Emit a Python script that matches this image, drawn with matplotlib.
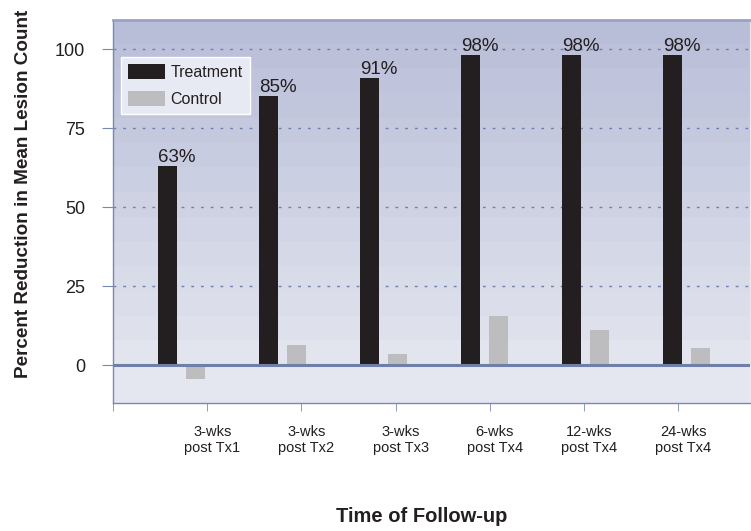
import numpy as np
import matplotlib
matplotlib.use("Agg")
import matplotlib.pyplot as plt
from matplotlib.colors import LinearSegmentedColormap

plt.rcParams['font.family'] = ['Liberation Sans', 'DejaVu Sans']

# data
followups = ['3-wks\npost Tx1', '3-wks\npost Tx2', '3-wks\npost Tx3',
             '6-wks\npost Tx4', '12-wks\npost Tx4', '24-wks\npost Tx4']
treatment = [63, 85, 91, 98, 98, 98]
control = [-4.5, 6.5, 3.5, 15.5, 11, 5.5]

TEXT = '#231f20'
GRID = '#6f80b0'

W, H = 751, 531
fig = plt.figure(figsize=(W / 100, H / 100), dpi=100)
ax = fig.add_axes([113 / W, 1 - 403 / H, (750 - 113) / W, (403 - 20) / H])

xlo, xhi = -0.54, 5.767
ylo, yhi = -12.0, 109.2
ax.set_xlim(xlo, xhi)
ax.set_ylim(ylo, yhi)

# banded blue gradient above zero, flat pale fill below
cmap = LinearSegmentedColormap.from_list('bg', ['#e2e4ee', '#b9bed8'])
bands = np.linspace(0, 1, 14).reshape(-1, 1)
ax.imshow(bands, cmap=cmap, aspect='auto', origin='lower',
          extent=(xlo, xhi, 0, yhi), interpolation='nearest', zorder=0)
ax.axhspan(ylo, 0, color='#e5e7f0', zorder=0, lw=0)

x = np.arange(len(followups))
bw = 0.19
ax.bar(x, treatment, bw, color=TEXT, label='Treatment', zorder=3)
ax.bar(x + 0.275, control, bw, color='#bdbdc0', label='Control', zorder=3)

for xi, v in zip(x, treatment):
    ax.annotate(f'{v}%', (xi - bw / 2, v), xytext=(0, 0), textcoords='offset points',
                ha='left', va='bottom', fontsize=13.5, color=TEXT, zorder=4)

# grid and zero line
for g in [25, 50, 75, 100]:
    ax.axhline(g, color=GRID, lw=1, ls=(0, (2, 5)), zorder=2)
ax.axhline(0, color='#6e7fa8', lw=2.2, zorder=4)

ax.set_yticks([0, 25, 50, 75, 100])
ax.tick_params(axis='y', length=8, color='#7a88b4', labelsize=13,
               labelcolor=TEXT, pad=12)

# tick marks sit between groups, labels just right of them
marks = 0.391 + 0.933 * np.arange(-1, 6)
ax.set_xticks(marks, minor=True)
ax.set_xticks(marks[1:] + 0.05)
ax.set_xticklabels(followups, fontsize=10.5, color=TEXT, linespacing=1.2)
ax.tick_params(axis='x', which='major', length=0, pad=16)
ax.tick_params(axis='x', which='minor', length=6, color='#7a88b4', direction='out')

for s in ['left', 'bottom']:
    ax.spines[s].set_color('#7a88b4')
    ax.spines[s].set_linewidth(1)
ax.spines['top'].set_color('#9aa1c4')
ax.spines['top'].set_linewidth(2)
ax.spines['right'].set_color('#e8eaf2')

leg = ax.legend(loc='upper left', bbox_to_anchor=(121 / W, 1 - 57 / H),
                bbox_transform=fig.transFigure, fontsize=11.5, frameon=True,
                fancybox=False, handlelength=2.3, handleheight=1.05,
                labelspacing=0.7, borderpad=0.45, handletextpad=0.35,
                borderaxespad=0)
leg.get_frame().set_facecolor('#e8eaf3')
leg.get_frame().set_edgecolor('white')
leg.get_frame().set_alpha(1)
for t in leg.get_texts():
    t.set_color(TEXT)

fig.text(24 / W, 1 - 194 / H, 'Percent Reduction in Mean Lesion Count',
         rotation=90, ha='center', va='center', fontsize=13.6,
         fontweight='bold', color=TEXT)
fig.text(422 / W, 1 - 516 / H, 'Time of Follow-up', ha='center', va='center',
         fontsize=14.5, fontweight='bold', color=TEXT)

fig.savefig('out.png', dpi=100)
